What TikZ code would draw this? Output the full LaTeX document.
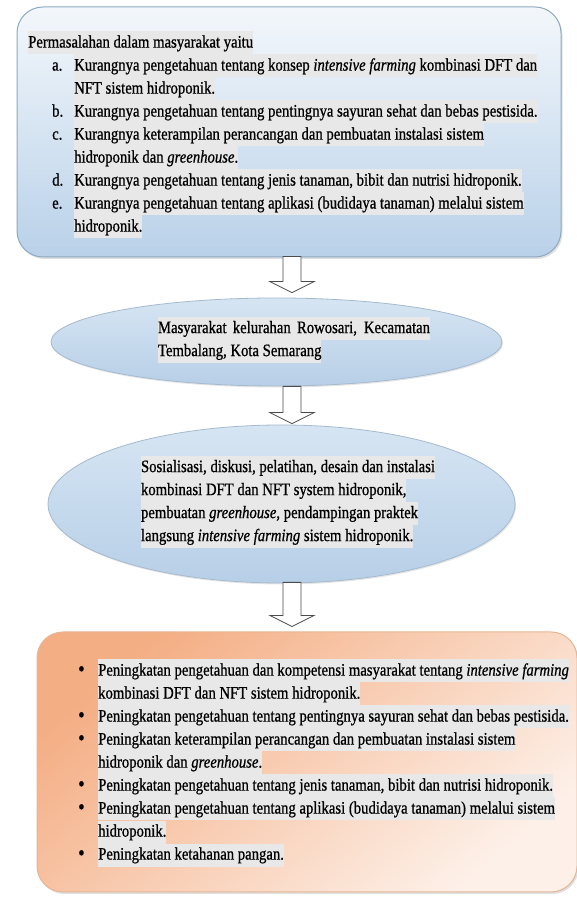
\documentclass[tikz,border=0pt]{standalone}
\usepackage{fontspec}
\setmainfont[FakeStretch=0.84, FakeBold=0.8]{Liberation Serif}
\usepackage{tikz}
\usetikzlibrary{calc, shapes.geometric, shadows}
\definecolor{bluetop}{HTML}{F3F7FB}
\definecolor{bluebot}{HTML}{B9D1E9}
\definecolor{blueline}{HTML}{8FA9C2}
\definecolor{elltop}{HTML}{D6E5F3}
\definecolor{ellmid}{HTML}{EEF4FA}
\definecolor{ellbot}{HTML}{B7CFE7}
\definecolor{orangetop}{HTML}{F4AE84}
\definecolor{orangebot}{HTML}{FDF0E8}
\definecolor{orangeline}{HTML}{E7B595}
\definecolor{hlgray}{HTML}{E8E8E8}

% highlighted line, label, continuation, bullet
\newcommand{\hl}[1]{\begingroup\fboxsep=0pt\colorbox{hlgray}{\strut #1}\endgroup}
\newcommand{\lbl}[1]{\hspace*{24pt}\makebox[22pt][l]{#1}}
\newcommand{\cnt}{\hspace*{46pt}}
\newcommand{\blt}{\makebox[20pt][l]{\raisebox{-0.5pt}{\fontsize{22}{23}\selectfont\textbullet}}}
\newcommand{\blockarrow}[2]{%
    \draw[blockarr] ($(#1)+(-9,0)$) -- ($(#2)+(-9,11)$) -- ($(#2)+(-22,11)$) -- (#2)
        -- ($(#2)+(22,11)$) -- ($(#2)+(9,11)$) -- ($(#1)+(9,0)$) -- cycle;}

\begin{document}
\begin{tikzpicture}[
    x=1pt, y=1pt,
    rectbox/.style={rectangle, rounded corners=26pt, inner sep=0pt, line width=1pt,
        drop shadow={opacity=0.25, shadow xshift=1.5pt, shadow yshift=-2pt}},
    ellbox/.style={ellipse, inner sep=0pt, draw=blueline!80, line width=0.8pt,
        top color=elltop, middle color=ellmid, bottom color=ellbot,
        drop shadow={opacity=0.2, shadow xshift=1pt, shadow yshift=-1.5pt}},
    txt/.style={inner sep=0pt, align=left, font=\fontsize{17.5}{23}\selectfont},
    blockarr/.style={draw=black!70, fill=white, line width=0.8pt, line join=miter},
]
\useasboundingbox (0,0) rectangle (577,899);
\fill[white] (0,0) rectangle (577,899);

% === SHAPES ===
\node[rectbox, draw=blueline, top color=bluetop, bottom color=bluebot,
    minimum width=544pt, minimum height=250pt] (masalah) at (289,767) {};
\node[ellbox, minimum width=451pt, minimum height=88pt] (mitra) at (276.5,557) {};
\node[ellbox, minimum width=467pt, minimum height=158pt] (solusi) at (281.5,395) {};
\node[rectbox, draw=orangeline, top color=orangetop, bottom color=orangebot, shading angle=40,
    minimum width=540pt, minimum height=260pt] (luaran) at (307,137) {};

% === TEXTS ===
\node[txt, anchor=west] (masalahtxt) at (28,764) {%
    \hl{Permasalahan dalam masyarakat yaitu}\\
    \lbl{a.}\hl{Kurangnya pengetahuan tentang konsep \textit{intensive farming} kombinasi DFT dan}\\
    \cnt\hl{NFT sistem hidroponik.}\\
    \lbl{b.}\hl{Kurangnya pengetahuan tentang pentingnya sayuran sehat dan bebas pestisida.}\\
    \lbl{c.}\hl{Kurangnya keterampilan perancangan dan pembuatan instalasi sistem}\\
    \cnt\hl{hidroponik dan \textit{greenhouse}.}\\
    \lbl{d.}\hl{Kurangnya pengetahuan tentang jenis tanaman, bibit dan nutrisi hidroponik.}\\
    \lbl{e.}\hl{Kurangnya pengetahuan tentang aplikasi (budidaya tanaman) melalui sistem}\\
    \cnt\hl{hidroponik.}};

\node[txt] (mitratxt) at (294,559) {%
    \hl{\makebox[272pt][s]{Masyarakat kelurahan Rowosari, Kecamatan}}\\
    \hl{Tembalang, Kota Semarang}};

\node[txt] (solusitxt) at (288,397) {%
    \hl{Sosialisasi, diskusi, pelatihan, desain dan instalasi}\\
    \hl{kombinasi DFT dan NFT system hidroponik,}\\
    \hl{pembuatan \textit{greenhouse}, pendampingan praktek}\\
    \hl{langsung \textit{intensive farming} sistem hidroponik.}};

\node[txt, anchor=west] (luarantxt) at (78,136) {%
    \blt\hl{Peningkatan pengetahuan dan kompetensi masyarakat tentang \textit{intensive farming}}\\
    \hspace*{20pt}\hl{kombinasi DFT dan NFT sistem hidroponik.}\\
    \blt\hl{Peningkatan pengetahuan tentang pentingnya sayuran sehat dan bebas pestisida.}\\
    \blt\hl{Peningkatan keterampilan perancangan dan pembuatan instalasi sistem}\\
    \hspace*{20pt}\hl{hidroponik dan \textit{greenhouse}.}\\
    \blt\hl{Peningkatan pengetahuan tentang jenis tanaman, bibit dan nutrisi hidroponik.}\\
    \blt\hl{Peningkatan pengetahuan tentang aplikasi (budidaya tanaman) melalui sistem}\\
    \hspace*{20pt}\hl{hidroponik.}\\
    \blt\hl{Peningkatan ketahanan pangan.}};

% === BLOCK ARROWS ===
\coordinate (ax) at (292,0);
\blockarrow{$(masalah.south -| ax)+(0,1)$}{$(mitra.north -| ax)+(0,5)$}
\blockarrow{$(mitra.south -| ax)+(0,0)$}{$(solusi.north -| ax)+(0,1)$}
\blockarrow{$(solusi.south -| ax)+(0,1)$}{$(luaran.north -| ax)+(0,5)$}

\end{tikzpicture}
\end{document}
